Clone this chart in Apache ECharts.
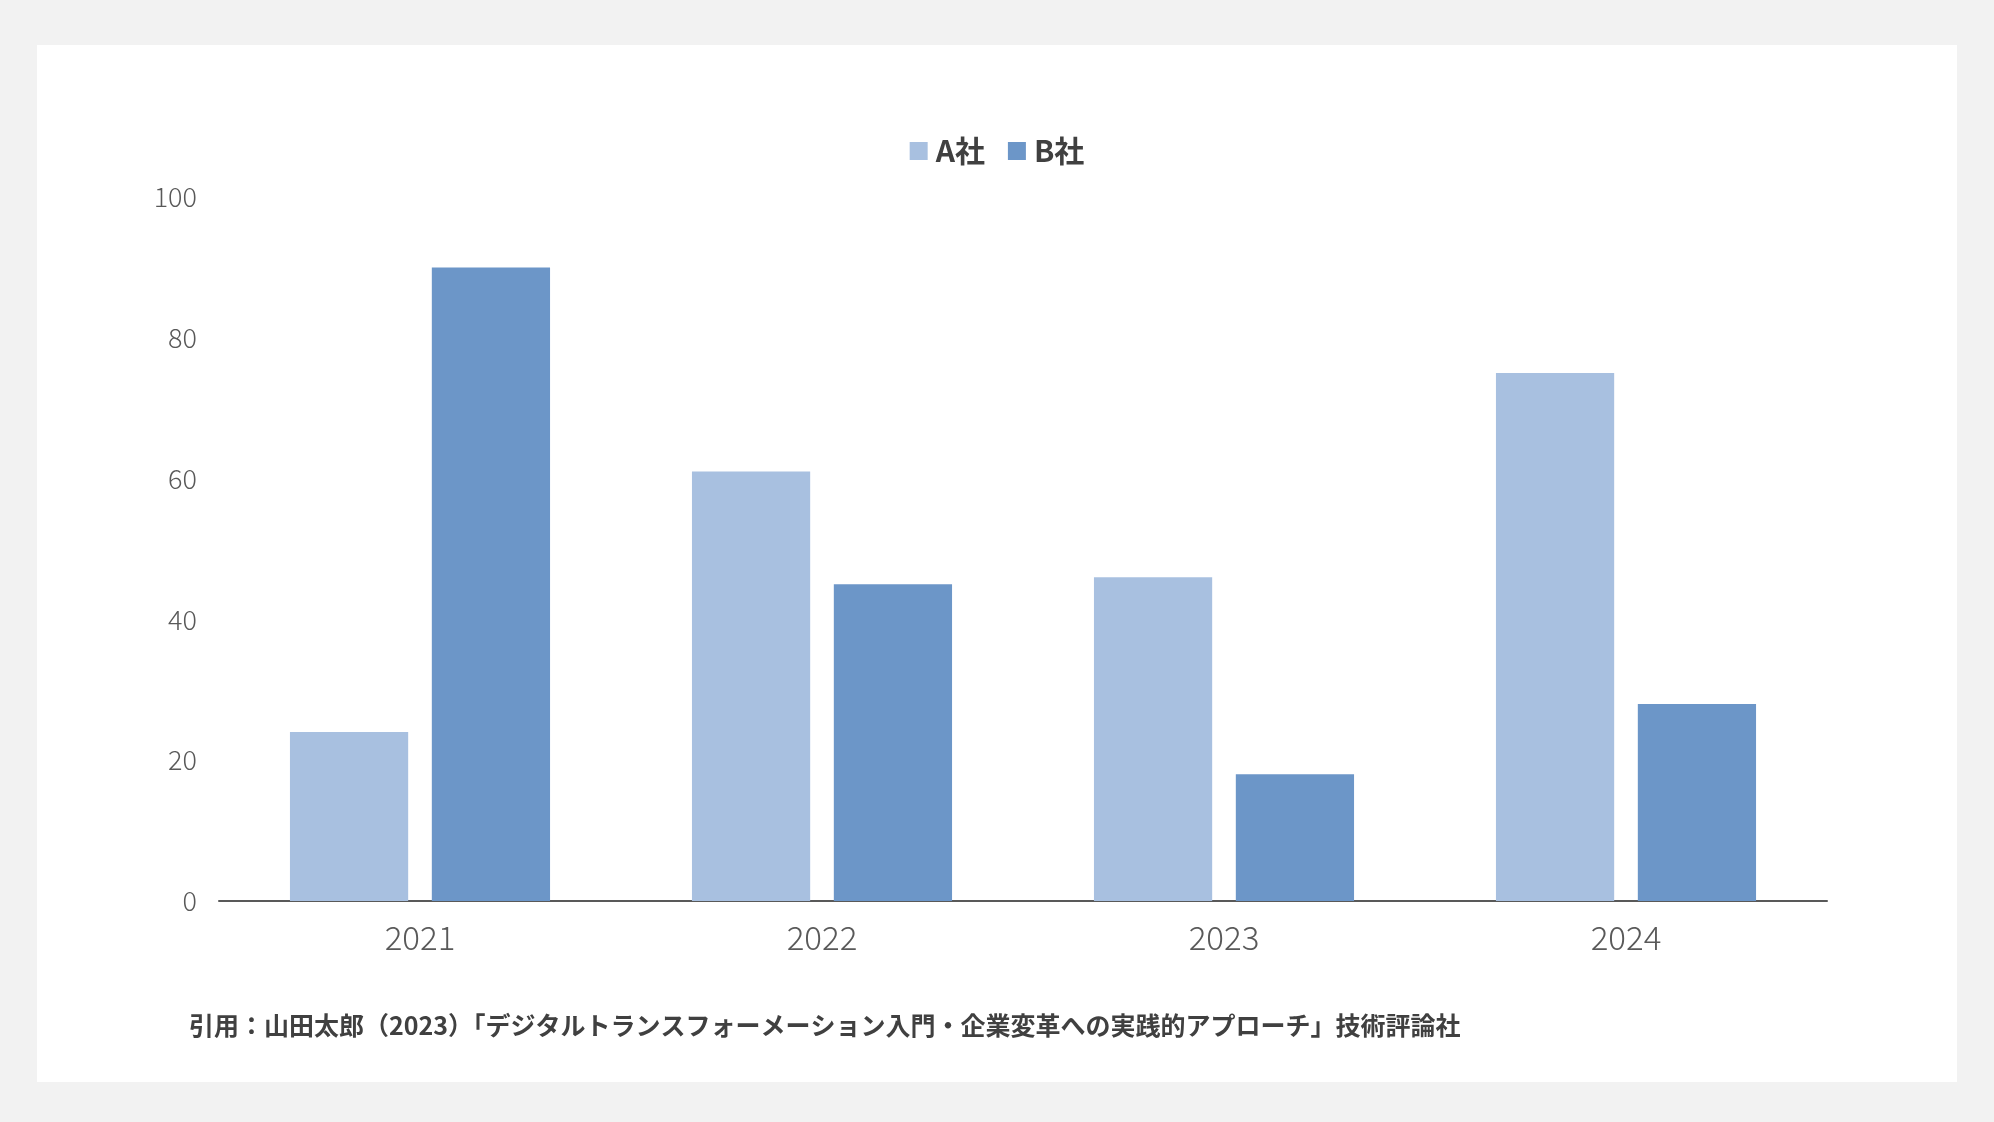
<!DOCTYPE html>
<html>
<head>
<meta charset="utf-8">
<script src="https://cdn.jsdelivr.net/npm/echarts@6/dist/echarts.min.js"></script>
<style>
html,body{margin:0;padding:0;background:#f2f2f2;width:1994px;height:1122px;overflow:hidden;}
#card{position:absolute;left:37px;top:45px;width:1920px;height:1037px;background:#fff;}
#chart{position:absolute;left:0;top:0;width:1994px;height:1122px;}
</style>
</head>
<body>
<div id="card"></div>
<div id="chart"></div>
<script>
const categories = ['2021', '2022', '2023', '2024'];
const seriesNames = ['A社', 'B社'];
const valuesA = [24, 61, 46, 75];
const valuesB = [90, 45, 18, 28];
const yTicks = [0, 20, 40, 60, 80, 100];
const sourceText = '引用：山田太郎（2023）「デジタルトランスフォーメーション入門・企業変革への実践的アプローチ」技術評論社';

const FONT = '"Noto Sans CJK JP", "Noto Sans", sans-serif';
const chart = echarts.init(document.getElementById('chart'), null, {renderer: 'canvas'});
chart.setOption({
  backgroundColor: 'transparent',
  animation: false,
  textStyle: {fontFamily: FONT},
  legend: {
    data: seriesNames,
    top: 131,
    left: 'center',
    itemWidth: 18,
    itemHeight: 18,
    itemGap: 23,
    icon: 'rect',
    textStyle: {fontSize: 30, fontWeight: 'bold', color: '#404040', fontFamily: FONT, padding: [0, 0, 0, 3]}
  },
  title: {
    text: sourceText,
    left: 184,
    top: 1008,
    textStyle: {fontSize: 25, fontWeight: 'bold', color: '#404040', fontFamily: FONT}
  },
  grid: {left: 219, right: 167, top: 197, bottom: 221, containLabel: false},
  xAxis: {
    type: 'category',
    data: categories,
    axisLine: {lineStyle: {color: '#595959', width: 2}},
    axisTick: {show: false},
    axisLabel: {fontSize: 33, fontWeight: 300, color: '#595959', margin: 20, fontFamily: FONT}
  },
  yAxis: {
    type: 'value',
    min: yTicks[0],
    max: yTicks[yTicks.length - 1],
    interval: yTicks[1] - yTicks[0],
    axisLine: {show: false},
    axisTick: {show: false},
    splitLine: {show: false},
    axisLabel: {fontSize: 27, fontWeight: 300, color: '#595959', margin: 22, fontFamily: FONT}
  },
  series: [
    {name: seriesNames[0], type: 'bar', data: valuesA, itemStyle: {color: '#a8c0e0'}, barGap: '20%', barCategoryGap: '35.3%'},
    {name: seriesNames[1], type: 'bar', data: valuesB, itemStyle: {color: '#6c96c8'}, barGap: '20%', barCategoryGap: '35.3%'}
  ]
});
</script>
</body>
</html>
